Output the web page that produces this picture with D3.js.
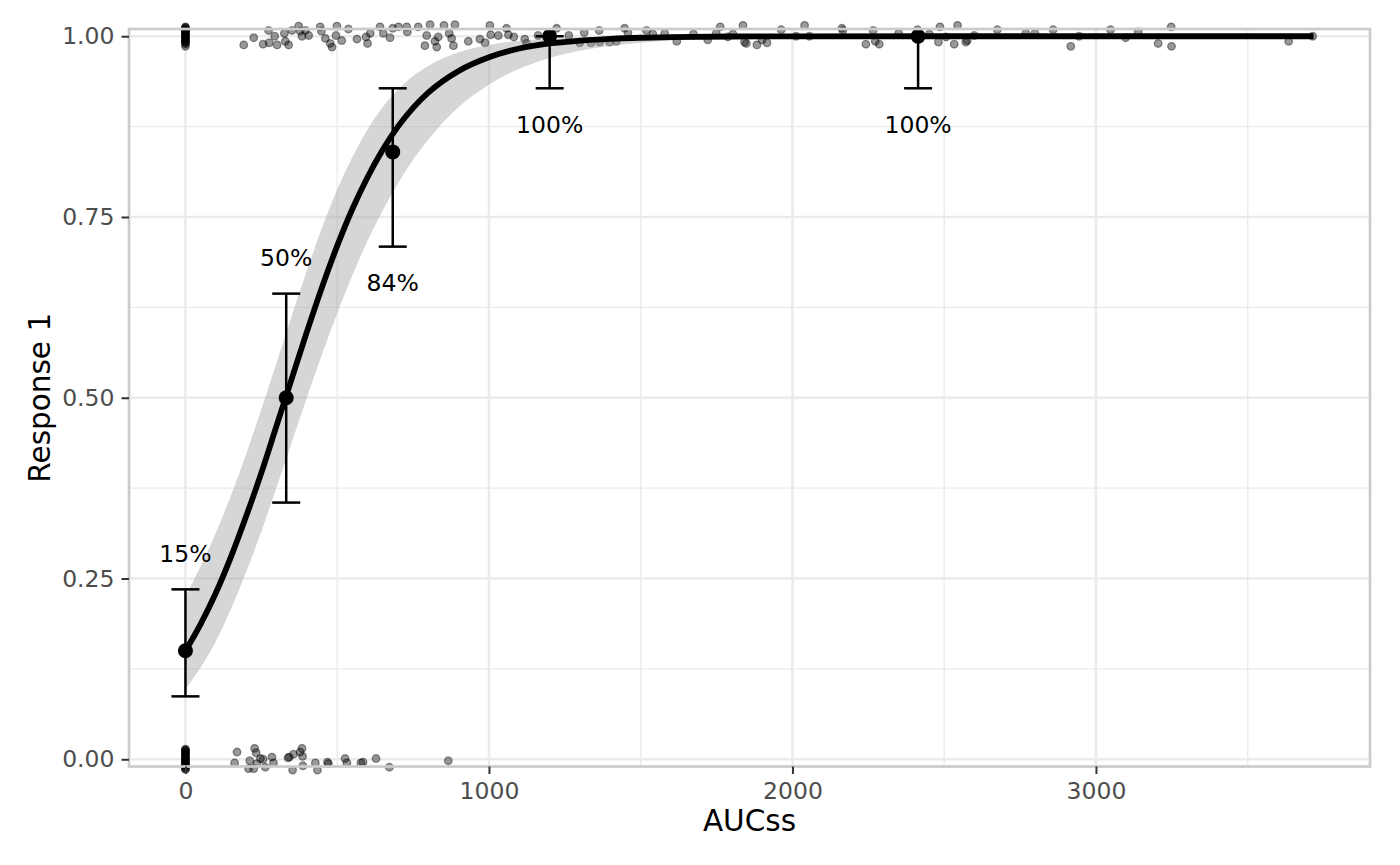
<!DOCTYPE html>
<html lang="en">
<head>
    <meta charset="UTF-8">
    <title>Exposure-response: Response 1 vs AUCss</title>
    <script src="https://d3js.org/d3.v7.min.js"></script>
    <style>
        body { margin: 0; background: #fff; }
        .tick text { font-family: "DejaVu Sans", sans-serif; font-size: 23.5px; fill: #4d4d4d; }
        .tick line { stroke: #333; stroke-width: 2; }
        .axis-title { font-family: "DejaVu Sans", sans-serif; font-size: 29.5px; fill: #000; }
        .pct { font-family: "DejaVu Sans", sans-serif; font-size: 23.5px; fill: #000; }
    </style>
</head>
<body>
<div id="chart"></div>
<script>
    const aucResp = [0, 0, 0, 0, 0, 0, 0, 0, 0, 0, 0, 0, 0, 0, 0, 0, 0, 0, 0, 0, 0, 0, 0,
        192, 225, 256, 274, 276, 294, 302, 326, 329, 340, 351, 373, 378, 384, 406, 395,
        444, 448, 461, 477, 483, 499, 496, 515, 537, 565, 600, 595, 609, 641, 652, 674,
        683, 702, 729, 731, 767, 789, 795, 806, 822, 828, 833, 852, 869, 877, 883, 888,
        932, 970, 987, 1003, 1006, 1031, 1058, 1064, 1082, 1118, 1124, 1162, 1223, 1263,
        1299, 1314, 1336, 1363, 1365, 1398, 1420, 1447, 1458, 1519, 1540, 1579, 1619,
        1674, 1721, 1749, 1762, 1787, 1804, 1837, 1842, 1848, 1883, 1900, 1916, 1963,
        2012, 2040, 2056, 2163, 2166, 2242, 2266, 2273, 2286, 2350, 2412, 2451, 2481,
        2486, 2506, 2533, 2544, 2571, 2576, 2599, 2675, 2769, 2799, 2859, 2917, 2944,
        3048, 3098, 3139, 3205, 3248, 3249, 3635, 3714];
    const yResp = [0.986, 0.989, 0.991, 0.993, 0.994, 0.996, 0.998, 0.999, 1.001, 1.002,
        1.004, 1.005, 1.006, 1.008, 1.009, 1.011, 1.012, 1.013, 1.010, 1.007, 1.003, 0.997, 0.992,
        0.988, 0.998, 0.989, 1.008, 0.991, 1.000, 0.988, 1.004, 0.993, 0.988, 1.008, 1.014, 1.007, 1.000, 1.001, 1.008,
        1.013, 1.007, 0.997, 0.990, 0.985, 1.014, 1.001, 0.994, 1.010, 0.996, 0.990, 0.999, 1.004, 1.013, 1.004, 0.998,
        1.011, 1.013, 1.013, 1.006, 1.013, 0.987, 1.001, 1.016, 0.993, 0.985, 0.999, 1.015, 1.004, 0.997, 0.987, 1.016,
        0.993, 0.996, 0.991, 1.015, 1.002, 1.001, 1.011, 1.002, 0.999, 0.996, 0.990, 1.001, 1.011, 1.001,
        0.991, 1.005, 0.991, 1.008, 0.992, 0.992, 0.993, 1.011, 1.005, 1.008, 1.003, 1.004, 0.993,
        1.003, 0.995, 1.004, 1.013, 0.999, 1.003, 1.015, 0.992, 0.990, 0.988, 0.995, 0.991, 1.009,
        1.000, 1.015, 1.000, 1.011, 1.008, 0.989, 1.008, 0.993, 0.989, 1.004, 1.009, 1.003, 0.992,
        1.013, 0.999, 0.989, 1.015, 0.992, 0.994, 1.001, 1.009, 1.004, 1.004, 1.009, 0.986, 1.000,
        1.009, 0.998, 1.006, 0.990, 1.013, 0.986, 0.993, 1.000];

    // Observed non-responders (Response 1 = 0), jittered
    const aucNon = [0, 0, 0, 0, 0, 0, 0, 0, 0, 0, 0, 0, 0, 0, 0, 0, 0, 0, 0, 0, 0, 0, 0, 0,
        170, 162, 208, 212, 228, 233, 225, 235, 247, 256, 263, 285, 290, 338, 342, 353,
        356, 378, 384, 386, 387, 428, 435, 468, 471, 526, 532, 578, 585, 628, 672, 866];
    const yNon = [0.014, 0.012, 0.011, 0.009, 0.008, 0.006, 0.004, 0.003, 0.001, 0.000,
        -0.002, -0.003, -0.005, -0.007, -0.008, -0.010, -0.012, -0.014,
        0.013, 0.007, 0.002, -0.004, -0.009, -0.013,
        0.010, -0.005, -0.013, -0.002, 0.015, 0.009, -0.013, -0.006, 0.001, 0.000, -0.011, 0.003, -0.005, 0.002, 0.003, -0.015,
        0.007, 0.010, 0.015, 0.004, -0.009, -0.005, -0.015, -0.004, -0.006, 0.001, -0.005, -0.005, -0.004, 0.001, -0.011, -0.002];

    // Logistic fit with 95% confidence band
    const fitAuc = [0, 50, 100, 150, 200, 250, 300, 350, 400, 450, 500, 550, 600, 650, 700, 750,
        800, 900, 1000, 1100, 1200, 1300, 1400, 1500, 1600, 1800, 2000, 2500, 3000, 3717];
    const fitP = [0.150, 0.187, 0.230, 0.280, 0.336, 0.396, 0.461, 0.526, 0.591, 0.653, 0.710, 0.761, 0.805, 0.843, 0.875, 0.901,
        0.922, 0.952, 0.971, 0.983, 0.990, 0.9939, 0.9964, 0.9979, 0.9987, 0.9996, 0.9999, 1, 1, 1];
    const fitLower = [0.097, 0.127, 0.163, 0.208, 0.259, 0.315, 0.376, 0.438, 0.500, 0.560, 0.617, 0.669, 0.717, 0.759, 0.796, 0.829,
        0.857, 0.902, 0.933, 0.955, 0.970, 0.980, 0.9865, 0.991, 0.994, 0.9974, 0.9988, 0.9999, 1, 1];
    const fitUpper = [0.225, 0.267, 0.313, 0.365, 0.422, 0.484, 0.548, 0.613, 0.676, 0.735, 0.788, 0.833, 0.871, 0.902, 0.926, 0.945,
        0.959, 0.978, 0.988, 0.9936, 0.9966, 0.9982, 0.9990, 0.9996, 0.9998, 1, 1, 1, 1, 1];

    // Observed response rate by exposure bin
    const binAuc = [0, 332, 683, 1200, 2414];
    const binRate = [0.15, 0.50, 0.84, 1.00, 1.00];
    const binLower = [0.087, 0.355, 0.709, 0.928, 0.928];
    const binUpper = [0.235, 0.644, 0.928, 1.00, 1.00];
    const binLabel = ["15%", "50%", "84%", "100%", "100%"];
    const labelAbove = [true, true, false, false, false];

    const xTicks = [0, 1000, 2000, 3000];
    const xMinor = [500, 1500, 2500, 3500];
    const yTicks = [0, 0.25, 0.5, 0.75, 1];
    const yMinor = [0.125, 0.375, 0.625, 0.875];

    const W = 1400, H = 865;
    const margin = { top: 29, right: 30, bottom: 98.5, left: 129 };

    const svg = d3.select("#chart").append("svg")
        .attr("width", W).attr("height", H);

    const x = d3.scaleLinear().domain([-186, 3903]).range([margin.left, W - margin.right]);
    const y = d3.scaleLinear().domain([-0.01, 1.01]).range([H - margin.bottom, margin.top]);

    const grid = svg.append("g");
    grid.selectAll("line.vmin").data(xMinor).join("line")
        .attr("x1", d => x(d)).attr("x2", d => x(d))
        .attr("y1", margin.top).attr("y2", H - margin.bottom)
        .attr("stroke", "#ebebeb").attr("stroke-width", 1.4);
    grid.selectAll("line.hmin").data(yMinor).join("line")
        .attr("y1", d => y(d)).attr("y2", d => y(d))
        .attr("x1", margin.left).attr("x2", W - margin.right)
        .attr("stroke", "#ebebeb").attr("stroke-width", 1.4);
    grid.selectAll("line.vmaj").data(xTicks).join("line")
        .attr("x1", d => x(d)).attr("x2", d => x(d))
        .attr("y1", margin.top).attr("y2", H - margin.bottom)
        .attr("stroke", "#ebebeb").attr("stroke-width", 2.6);
    grid.selectAll("line.hmaj").data(yTicks).join("line")
        .attr("y1", d => y(d)).attr("y2", d => y(d))
        .attr("x1", margin.left).attr("x2", W - margin.right)
        .attr("stroke", "#ebebeb").attr("stroke-width", 2.6);

    // jittered observations
    const pts = svg.append("g")
        .attr("fill", "#000").attr("fill-opacity", 0.4)
        .attr("stroke", "#000").attr("stroke-opacity", 0.4).attr("stroke-width", 1.3);
    pts.selectAll("circle.r").data(d3.range(aucResp.length)).join("circle")
        .attr("cx", i => x(aucResp[i])).attr("cy", i => y(yResp[i])).attr("r", 3.8);
    pts.selectAll("circle.n").data(d3.range(aucNon.length)).join("circle")
        .attr("cx", i => x(aucNon[i])).attr("cy", i => y(yNon[i])).attr("r", 3.8);

    // confidence band and fitted curve
    const fit = fitAuc.map((a, i) => ({ a, p: fitP[i], lo: fitLower[i], hi: fitUpper[i] }));
    svg.append("path").datum(fit)
        .attr("fill", "#999").attr("fill-opacity", 0.4)
        .attr("d", d3.area().curve(d3.curveMonotoneX)
            .x(d => x(d.a)).y0(d => y(d.lo)).y1(d => y(d.hi)));
    svg.append("path").datum(fit)
        .attr("fill", "none").attr("stroke", "#000").attr("stroke-width", 5.8)
        .attr("d", d3.line().curve(d3.curveMonotoneX).x(d => x(d.a)).y(d => y(d.p)));

    // binned response rates with error bars
    const eb = svg.append("g").attr("stroke", "#000").attr("stroke-width", 2.5);
    binAuc.forEach((a, i) => {
        const cx = x(a);
        eb.append("line").attr("x1", cx).attr("x2", cx)
            .attr("y1", y(binLower[i])).attr("y2", y(binUpper[i]));
        [binLower[i], binUpper[i]].forEach(v => {
            eb.append("line").attr("x1", cx - 14).attr("x2", cx + 14)
                .attr("y1", y(v)).attr("y2", y(v));
        });
    });
    svg.append("g").selectAll("circle").data(binAuc).join("circle")
        .attr("cx", d => x(d)).attr("cy", (d, i) => y(binRate[i])).attr("r", 7.5)
        .attr("fill", "#000");

    svg.append("g").selectAll("text").data(binAuc).join("text")
        .attr("class", "pct")
        .attr("x", d => x(d))
        .attr("y", (d, i) => y(labelAbove[i] ? binUpper[i] + 0.05 : binLower[i] - 0.05))
        .attr("dy", "0.36em")
        .attr("text-anchor", "middle")
        .text((d, i) => binLabel[i]);

    // panel border
    svg.append("rect")
        .attr("x", margin.left).attr("y", margin.top)
        .attr("width", W - margin.left - margin.right)
        .attr("height", H - margin.top - margin.bottom)
        .attr("fill", "none").attr("stroke", "#cbcbcb").attr("stroke-width", 2.7);

    // axes
    const xAxis = svg.append("g")
        .attr("transform", `translate(0,${H - margin.bottom})`)
        .call(d3.axisBottom(x).tickValues(xTicks).tickFormat(d3.format("d")).tickSize(7.5).tickPadding(8));
    xAxis.select(".domain").remove();
    const yAxis = svg.append("g")
        .attr("transform", `translate(${margin.left},0)`)
        .call(d3.axisLeft(y).tickValues(yTicks).tickFormat(d3.format(".2f")).tickSize(7.5).tickPadding(7));
    yAxis.select(".domain").remove();
    svg.selectAll(".tick text").attr("font-family", null).attr("font-size", null);

    svg.append("text").attr("class", "axis-title")
        .attr("x", (margin.left + W - margin.right) / 2).attr("y", 831)
        .attr("text-anchor", "middle").text("AUCss");
    svg.append("text").attr("class", "axis-title")
        .attr("transform", `translate(50,${(margin.top + H - margin.bottom) / 2}) rotate(-90)`)
        .attr("text-anchor", "middle").text("Response 1");
</script>
</body>
</html>
